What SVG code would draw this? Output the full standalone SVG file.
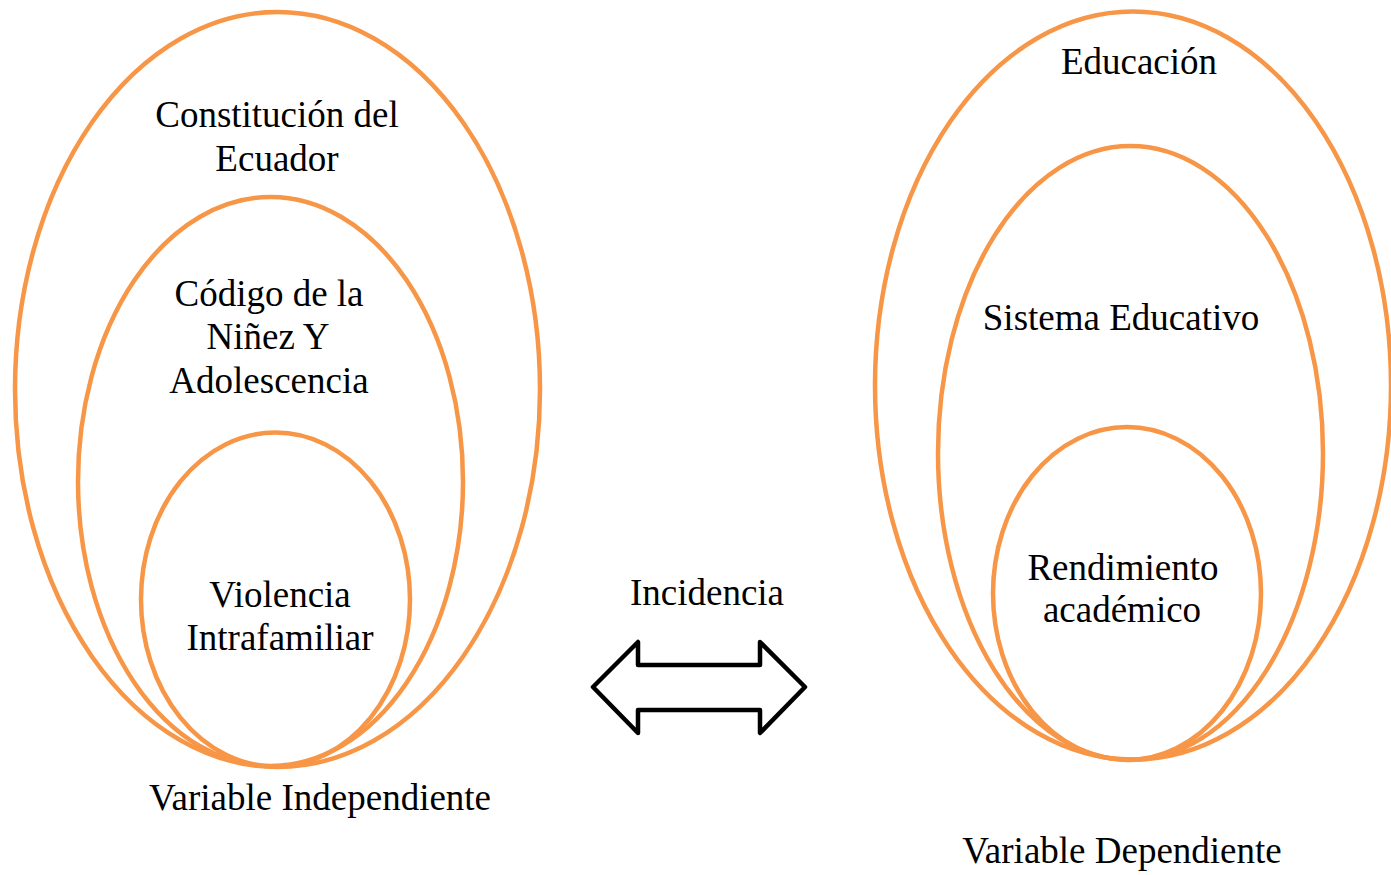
<svg xmlns="http://www.w3.org/2000/svg" width="1391" height="875" viewBox="0 0 1391 875">
<style>
.ring{fill:none;stroke:#F79646;stroke-width:4.5}
.t{font-family:"Liberation Serif","Times New Roman",serif;font-size:37px;fill:#000;text-anchor:middle}
.arr{fill:#fff;stroke:#000;stroke-width:4.5;stroke-linejoin:round}
</style>
<rect width="1391" height="875" fill="#fff"/>
<g id="constitucion">
<ellipse class="ring" cx="277.5" cy="389.5" rx="262.5" ry="377.5"/>
<text class="t" x="277" y="127">Constitución del</text>
<text class="t" x="277" y="171">Ecuador</text>
</g>
<g id="codigo">
<ellipse class="ring" cx="270.5" cy="481.5" rx="192.5" ry="284.5"/>
<text class="t" x="269" y="306">Código de la</text>
<text class="t" x="268" y="349">Niñez Y</text>
<text class="t" x="269" y="393">Adolescencia</text>
</g>
<g id="violencia">
<ellipse class="ring" cx="275.5" cy="599.5" rx="134.5" ry="167"/>
<text class="t" x="280" y="607">Violencia</text>
<text class="t" x="280" y="650">Intrafamiliar</text>
</g>
<g id="var-indep">
<text class="t" x="320" y="810">Variable Independiente</text>
</g>
<g id="educacion">
<ellipse class="ring" cx="1133" cy="385.5" rx="258" ry="374"/>
<text class="t" x="1139" y="74">Educación</text>
</g>
<g id="sistema">
<ellipse class="ring" cx="1130.5" cy="453" rx="192.5" ry="307"/>
<text class="t" x="1121" y="330">Sistema Educativo</text>
</g>
<g id="rendimiento">
<ellipse class="ring" cx="1127" cy="593.5" rx="134" ry="166.5"/>
<text class="t" x="1123" y="580">Rendimiento</text>
<text class="t" x="1122" y="622">académico</text>
</g>
<g id="var-dep">
<text class="t" x="1122" y="863">Variable Dependiente</text>
</g>
<g id="connectors">
<polygon class="arr" points="593,687 638,642 638,665 760,665 760,642 805,687 760,733 760,710 638,710 638,733"/>
<text class="t" x="707" y="605">Incidencia</text>
</g>
</svg>
